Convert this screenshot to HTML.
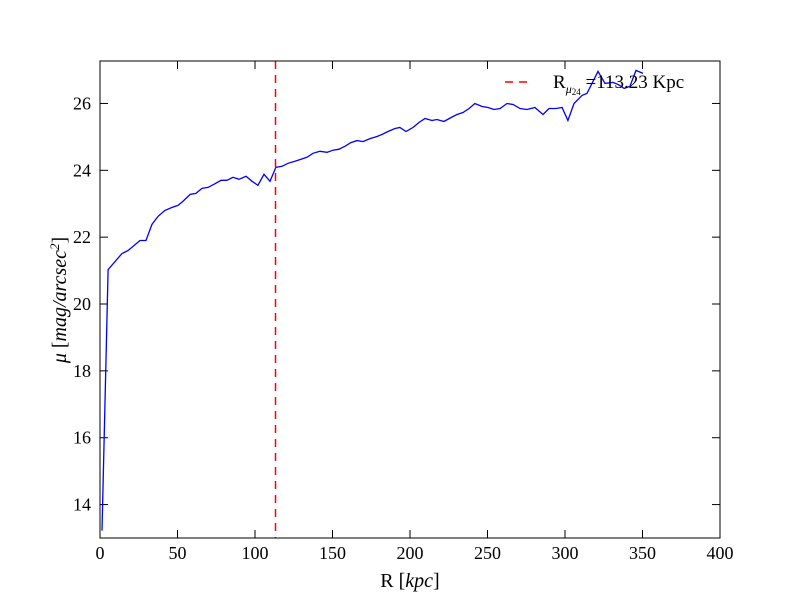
<!DOCTYPE html>
<html><head><meta charset="utf-8"><style>
body{margin:0;background:#fff}
svg text{font-family:"Liberation Serif","DejaVu Serif",serif;fill:#000}
</style></head><body>
<svg width="800" height="600" xmlns="http://www.w3.org/2000/svg">
<rect width="800" height="600" fill="#fff"/>
<g id="ticks"></g>
<path id="line" fill="none" stroke="#0000ff" stroke-width="1.3"/>
<line id="vline" stroke="#ff0000" stroke-width="1.5" stroke-dasharray="8,6"/>
<rect x="100" y="61" width="620" height="477" fill="none" stroke="#000" stroke-width="1"/>
<g>
<line x1="505" y1="82" x2="533" y2="82" stroke="#ff0000" stroke-width="1.5" stroke-dasharray="8,6"/>
<text x="553" y="88" font-size="19">R<tspan font-size="12" dy="5" font-style="italic">μ</tspan><tspan font-size="9" dy="2">24</tspan><tspan dy="-7"> =113.23 Kpc</tspan></text>
</g>
<text x="410" y="587" font-size="20" text-anchor="middle">R [<tspan font-style="italic">kpc</tspan>]</text>
<text transform="translate(66,300) rotate(-90)" font-size="20" text-anchor="middle"><tspan font-style="italic">μ</tspan> [<tspan font-style="italic">mag/arcsec</tspan><tspan font-size="13" dy="-7" font-style="italic">2</tspan><tspan dy="7">]</tspan></text>
</svg>
<script>
const R = [1.3,5.2,14.2,18.1,25.8,29.7,33.5,37.4,41.9,46.5,50.3,53.5,58.1,61.9,65.8,69.7,73.5,78.1,81.9,85.8,89.7,94.2,98.1,101.9,105.8,109.7,113.5,117.4,121.3,125.8,129.7,133.5,137.4,141.9,146.5,150.3,154.2,158.1,161.9,165.8,169.7,174.2,178.7,181.9,185.8,190.3,193.5,197.4,201.9,205.8,209.7,214.2,217.4,221.9,226.5,230.3,234.2,238.1,241.9,246.5,250.3,254.2,258.1,262.6,266.5,271.0,275.5,280.6,285.8,289.7,294.2,298.1,301.9,305.8,311.0,314.2,321.3,325.8,331.0,334.2,338.1,341.9,345.8,350.3];
const MU = [13.22,21.03,21.51,21.60,21.90,21.90,22.38,22.62,22.80,22.89,22.95,23.07,23.28,23.31,23.46,23.49,23.58,23.70,23.70,23.79,23.73,23.82,23.67,23.55,23.88,23.67,24.09,24.12,24.21,24.27,24.33,24.39,24.51,24.57,24.54,24.60,24.63,24.72,24.83,24.89,24.86,24.95,25.01,25.07,25.16,25.25,25.28,25.16,25.28,25.43,25.55,25.49,25.52,25.46,25.58,25.67,25.73,25.85,26.00,25.91,25.88,25.82,25.85,26.00,25.97,25.85,25.82,25.88,25.67,25.85,25.85,25.88,25.49,26.00,26.24,26.30,26.96,26.60,26.63,26.57,26.45,26.51,26.99,26.90];
const xTicks = [0,50,100,150,200,250,300,350,400];
const yTicks = [14,16,18,20,22,24,26];
const R24 = 113.23;
const X0=100,X1=720,Y0=538,Y1=61,xmin=0,xmax=400,ymin=13,ymax=27.27;
const sx=v=>X0+(v-xmin)/(xmax-xmin)*(X1-X0);
const sy=v=>Y0-(v-ymin)/(ymax-ymin)*(Y0-Y1);
const NS='http://www.w3.org/2000/svg';
const g=document.getElementById('ticks');
function mk(t,a){const e=document.createElementNS(NS,t);for(const k in a)e.setAttribute(k,a[k]);g.appendChild(e);return e;}
xTicks.forEach(v=>{const x=sx(v);
 const a=mk('line',{x1:x,y1:Y0,x2:x,y2:Y0-8,stroke:'#000'});
 
 
 const b=mk('line',{x1:x,y1:Y1,x2:x,y2:Y1+8,stroke:'#000'});
 
 
 const t=mk('text',{x:x,y:Y0+21,'font-size':18,'text-anchor':'middle'});t.textContent=v;
 
 
});
yTicks.forEach(v=>{const y=sy(v);
 const a=mk('line',{x1:X0,y1:y,x2:X0+8,y2:y,stroke:'#000'});
 
 
 const b=mk('line',{x1:X1,y1:y,x2:X1-8,y2:y,stroke:'#000'});
 
 
 const t=mk('text',{x:X0-9,y:y+6,'font-size':18,'text-anchor':'end'});t.textContent=v;
 
 
});
document.getElementById('line').setAttribute('d',R.map((r,i)=>(i?'L':'M')+sx(r).toFixed(1)+','+sy(MU[i]).toFixed(1)).join(''));
const vl=document.getElementById('vline');
vl.setAttribute('x1',sx(R24));vl.setAttribute('x2',sx(R24));vl.setAttribute('y1',Y1);vl.setAttribute('y2',Y0);
</script>
</body></html>
